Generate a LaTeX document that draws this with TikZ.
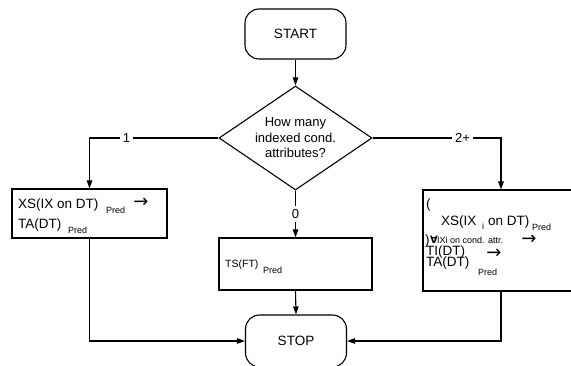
\documentclass[tikz,border=0pt]{standalone}
\usepackage{fontspec}
\setmainfont{Liberation Sans}
\newfontfamily\symfont{DejaVu Sans}
\usetikzlibrary{shapes.geometric,arrows.meta}
\begin{document}
\begin{tikzpicture}[x=1pt,y=-1pt,
  every node/.style={inner sep=0pt},
  body/.style={font=\fontsize{13.5}{16}\selectfont},
  smallbody/.style={font=\fontsize{10.5}{12}\selectfont},
  subtxt/.style={font=\fontsize{9}{10}\selectfont},
  arrowglyph/.style={font=\symfont\fontsize{18}{18}\selectfont},
  term/.style={draw, line width=1.1pt, rounded corners=14pt,
    minimum width=101pt, minimum height=50pt,
    font=\fontsize{13.5}{16}\selectfont},
  decide/.style={diamond, draw, line width=1.1pt, aspect=1.47,
    minimum width=153pt, minimum height=104pt, align=center,
    font=\fontsize{13}{15.5}\selectfont},
  stepbox/.style={draw, line width=1.1pt},
  flow/.style={line width=1.1pt, -{Triangle[length=8pt,width=5.5pt]}},
  lbl/.style={fill=white, inner sep=3pt, font=\fontsize{13}{15}\selectfont}
]
\useasboundingbox (0,0) rectangle (571,366);

% terminals and decision
\node[term] (start) at (295.5,34) {START};
\node[decide] (q) at (295.5,138) {How many\\indexed cond.\\attributes?};
\node[term, minimum height=52pt] (stop) at (296,341) {STOP};

% process boxes
\node[stepbox, minimum width=155pt, minimum height=49pt] (lb) at (89.5,213.5) {};
\node[stepbox, minimum width=153pt, minimum height=52pt] (mb) at (295.5,264) {};
\node[stepbox, minimum width=156pt, minimum height=101pt] (rb) at (501,240.5) {};

% left box text
\node[body, anchor=base west] (l1) at (18,209) {XS(IX on DT)};
\node[subtxt, anchor=base west] (l1s) at (106,214) {Pred};
\node[arrowglyph] (l1a) at (141,203) {→};
\node[body, anchor=base west] (l2) at (18,229) {TA(DT)};
\node[subtxt, anchor=base west] (l2s) at (68,234) {Pred};

% middle box text
\node[smallbody, anchor=base west] (m1) at (225,268) {TS(FT)};
\node[subtxt, anchor=base west] (m1s) at (263,274) {Pred};

% right box text
\node[body, anchor=base west] (r0) at (426,209) {(};
\node[body, anchor=base west] (r1) at (441,226) {XS(IX};
\node[subtxt, anchor=base west] (r1i) at (482,230) {i};
\node[body, anchor=base west] (r1b) at (488,226) {on DT)};
\node[subtxt, anchor=base west] (r1s) at (532,231) {Pred};
\node[body, anchor=base west] (r2) at (425,245) {)};
\node[font=\symfont\bfseries\fontsize{10}{10}\selectfont, anchor=base west] (r2f) at (430,244) {∀};
\node[subtxt, anchor=base west] (r2s) at (437,244) {IXi on cond. attr.};
\node[arrowglyph] (r2a) at (529,240) {→};
\node[body, anchor=base west] (r3) at (426,256) {TI(DT)};
\node[arrowglyph] (r3a) at (494,254) {→};
\node[body, anchor=base west] (r4) at (426,267) {TA(DT)};
\node[subtxt, anchor=base west] (r4s) at (478,276) {Pred};

% connectors
\draw[flow] (start) -- (q);
\draw[flow] (q.west) -| node[lbl, pos=0.357] (c1) {1} (lb.north);
\draw[flow] (q.east) -| node[lbl, pos=0.35] (c2) {2+} (rb.north);
\draw[flow] (q.south) -- node[lbl, pos=0.5] (c0) {0} (mb.north);
\draw[flow] (lb.south) |- (stop.west);
\draw[flow] (rb.south) |- (stop.east);
\draw[flow] (mb.south) -- (stop.north);
\end{tikzpicture}
\end{document}
